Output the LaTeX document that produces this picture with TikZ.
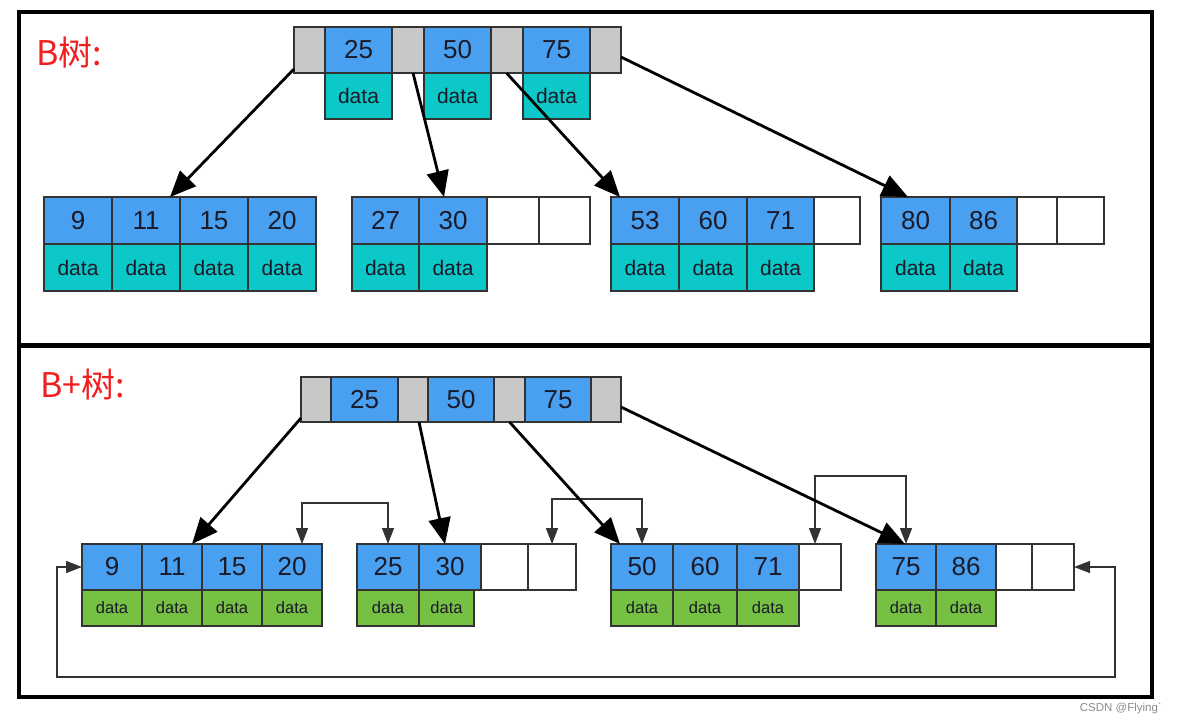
\documentclass[tikz,border=0pt]{standalone}
\usepackage{fontspec}
\setmainfont{Liberation Sans}
\newfontfamily\cjk{Noto Sans CJK SC}
\usetikzlibrary{arrows.meta,calc}
\definecolor{keyblue}{HTML}{4AA0F0}
\definecolor{tealdata}{HTML}{0CC8C8}
\definecolor{greendata}{HTML}{76C043}
\definecolor{ptrgray}{HTML}{C8C8C8}
\definecolor{cellline}{HTML}{333333}
\definecolor{txt}{HTML}{1A1A28}
\definecolor{titlered}{HTML}{EE2020}
\newcommand\mkcell[7]{\node[#1,minimum width={(#4-#3)*1pt},minimum height={(#6-#5)*1pt}] (#2) at (#3,#5) {#7};}
\tikzset{
  cell/.style={draw=cellline, line width=1.2pt, inner sep=0pt, outer sep=0pt, anchor=north west, text=txt},
  keycell/.style={cell, fill=keyblue, font=\fontsize{26}{26}\selectfont},
  ptrcell/.style={cell, fill=ptrgray},
  emptycell/.style={cell, fill=white},
  tdata/.style={cell, fill=tealdata, font=\fontsize{21}{21}\selectfont},
  gdata/.style={cell, fill=greendata, font=\fontsize{16.5}{16.5}\selectfont},
  thickarrow/.style={line width=2.8pt, black, -{Triangle[length=26pt,width=22pt]}},
  linkarrow/.style={line width=1.4pt, draw=cellline, {Triangle[length=16pt,width=12pt]}-{Triangle[length=16pt,width=12pt]}},
  title/.style={anchor=base west, text=titlered, font=\cjk\fontsize{34}{34}\selectfont, inner sep=0pt}
}
\begin{document}
\begin{tikzpicture}[x=1pt,y=-1pt]
\useasboundingbox (0,0) rectangle (1177,723);
\fill[white] (0,0) rectangle (1177,723);
% frames
\draw[line width=4pt] (19,12) rectangle (1152,697);
\draw[line width=5pt] (17,345.5) -- (1154,345.5);
% titles
\node[title] (tB) at (36,65) {B树:};
\node[title] (tBp) at (40,397) {B+树:};
% ---------- B tree ----------
\mkcell{ptrcell}{ag1}{294}{325}{27}{73}{}
\mkcell{keycell}{ak1}{325}{392}{27}{73}{25}
\mkcell{ptrcell}{ag2}{392}{424}{27}{73}{}
\mkcell{keycell}{ak2}{424}{491}{27}{73}{50}
\mkcell{ptrcell}{ag3}{491}{523}{27}{73}{}
\mkcell{keycell}{ak3}{523}{590}{27}{73}{75}
\mkcell{ptrcell}{ag4}{590}{621}{27}{73}{}
\mkcell{tdata}{ad1}{325}{392}{73}{119}{data}
\mkcell{tdata}{ad2}{424}{491}{73}{119}{data}
\mkcell{tdata}{ad3}{523}{590}{73}{119}{data}
% leaf 1
\mkcell{keycell}{l1k1}{44}{112}{197}{244}{9}
\mkcell{keycell}{l1k2}{112}{180}{197}{244}{11}
\mkcell{keycell}{l1k3}{180}{248}{197}{244}{15}
\mkcell{keycell}{l1k4}{248}{316}{197}{244}{20}
\mkcell{tdata}{l1d1}{44}{112}{244}{291}{data}
\mkcell{tdata}{l1d2}{112}{180}{244}{291}{data}
\mkcell{tdata}{l1d3}{180}{248}{244}{291}{data}
\mkcell{tdata}{l1d4}{248}{316}{244}{291}{data}
% leaf 2
\mkcell{keycell}{l2k1}{352}{419}{197}{244}{27}
\mkcell{keycell}{l2k2}{419}{487}{197}{244}{30}
\mkcell{emptycell}{l2e1}{487}{539}{197}{244}{}
\mkcell{emptycell}{l2e2}{539}{590}{197}{244}{}
\mkcell{tdata}{l2d1}{352}{419}{244}{291}{data}
\mkcell{tdata}{l2d2}{419}{487}{244}{291}{data}
% leaf 3
\mkcell{keycell}{l3k1}{611}{679}{197}{244}{53}
\mkcell{keycell}{l3k2}{679}{747}{197}{244}{60}
\mkcell{keycell}{l3k3}{747}{814}{197}{244}{71}
\mkcell{emptycell}{l3e1}{814}{860}{197}{244}{}
\mkcell{tdata}{l3d1}{611}{679}{244}{291}{data}
\mkcell{tdata}{l3d2}{679}{747}{244}{291}{data}
\mkcell{tdata}{l3d3}{747}{814}{244}{291}{data}
% leaf 4
\mkcell{keycell}{l4k1}{881}{950}{197}{244}{80}
\mkcell{keycell}{l4k2}{950}{1017}{197}{244}{86}
\mkcell{emptycell}{l4e1}{1017}{1057}{197}{244}{}
\mkcell{emptycell}{l4e2}{1057}{1104}{197}{244}{}
\mkcell{tdata}{l4d1}{881}{950}{244}{291}{data}
\mkcell{tdata}{l4d2}{950}{1017}{244}{291}{data}
% arrows B tree
\draw[thickarrow] ([yshift=4pt]ag1.south west) -- ([xshift=24pt]l1k2.north);
\draw[thickarrow] ([xshift=5pt]ag2.south) -- ([xshift=-9pt]l2k2.north);
\draw[thickarrow] ([xshift=-0.5pt]ag3.south) -- ([xshift=9pt]l3k1.north west);
\draw[thickarrow] ([yshift=-7pt]ag4.east) -- ([xshift=-7.5pt]l4k1.north);
% ---------- B+ tree ----------
\mkcell{ptrcell}{bg1}{301}{331}{377}{422}{}
\mkcell{keycell}{bk1}{331}{398}{377}{422}{25}
\mkcell{ptrcell}{bg2}{398}{428}{377}{422}{}
\mkcell{keycell}{bk2}{428}{494}{377}{422}{50}
\mkcell{ptrcell}{bg3}{494}{525}{377}{422}{}
\mkcell{keycell}{bk3}{525}{591}{377}{422}{75}
\mkcell{ptrcell}{bg4}{591}{621}{377}{422}{}
% leaf 1
\mkcell{keycell}{m1k1}{82}{142}{544}{590}{9}
\mkcell{keycell}{m1k2}{142}{202}{544}{590}{11}
\mkcell{keycell}{m1k3}{202}{262}{544}{590}{15}
\mkcell{keycell}{m1k4}{262}{322}{544}{590}{20}
\mkcell{gdata}{m1d1}{82}{142}{590}{626}{data}
\mkcell{gdata}{m1d2}{142}{202}{590}{626}{data}
\mkcell{gdata}{m1d3}{202}{262}{590}{626}{data}
\mkcell{gdata}{m1d4}{262}{322}{590}{626}{data}
% leaf 2
\mkcell{keycell}{m2k1}{357}{419}{544}{590}{25}
\mkcell{keycell}{m2k2}{419}{481}{544}{590}{30}
\mkcell{emptycell}{m2e1}{481}{528}{544}{590}{}
\mkcell{emptycell}{m2e2}{528}{576}{544}{590}{}
\mkcell{gdata}{m2d1}{357}{419}{590}{626}{data}
\mkcell{gdata}{m2d2}{419}{474}{590}{626}{data}
% leaf 3
\mkcell{keycell}{m3k1}{611}{673}{544}{590}{50}
\mkcell{keycell}{m3k2}{673}{737}{544}{590}{60}
\mkcell{keycell}{m3k3}{737}{799}{544}{590}{71}
\mkcell{emptycell}{m3e1}{799}{841}{544}{590}{}
\mkcell{gdata}{m3d1}{611}{673}{590}{626}{data}
\mkcell{gdata}{m3d2}{673}{737}{590}{626}{data}
\mkcell{gdata}{m3d3}{737}{799}{590}{626}{data}
% leaf 4
\mkcell{keycell}{m4k1}{876}{936}{544}{590}{75}
\mkcell{keycell}{m4k2}{936}{996}{544}{590}{86}
\mkcell{emptycell}{m4e1}{996}{1032}{544}{590}{}
\mkcell{emptycell}{m4e2}{1032}{1074}{544}{590}{}
\mkcell{gdata}{m4d1}{876}{936}{590}{626}{data}
\mkcell{gdata}{m4d2}{936}{996}{590}{626}{data}
% leaf links
\draw[linkarrow] ([xshift=10pt]m1k4.north) -- ++(0,-41) -| (m2k1.north);
\draw[linkarrow] (m2e2.north) -- ++(0,-45) -| (m3k1.north);
\draw[linkarrow] ([xshift=-5pt]m3e1.north) -- ++(0,-68) -| (m4k1.north);
\draw[linkarrow] (m4e2.east) -- ++(41,0) -- ++(0,110) -| ([xshift=-25pt]m1k1.west) -- (m1k1.west);
% arrows B+ tree
\draw[thickarrow] ([yshift=4pt]bg1.south west) -- ([xshift=20pt]m1k2.north);
\draw[thickarrow] ([xshift=6pt]bg2.south) -- ([xshift=-5pt]m2k2.north);
\draw[thickarrow] (bg3.south) -- ([xshift=9pt]m3k1.north west);
\draw[thickarrow] ([yshift=-7.5pt]bg4.east) -- ([xshift=-1pt]m4k1.north);
% watermark
\node[anchor=east, text=black!45, font=\fontsize{11.5}{11.5}\selectfont, inner sep=0pt] (wm) at (1162,708) {CSDN @Flying\textasciigrave};
\end{tikzpicture}
\end{document}
